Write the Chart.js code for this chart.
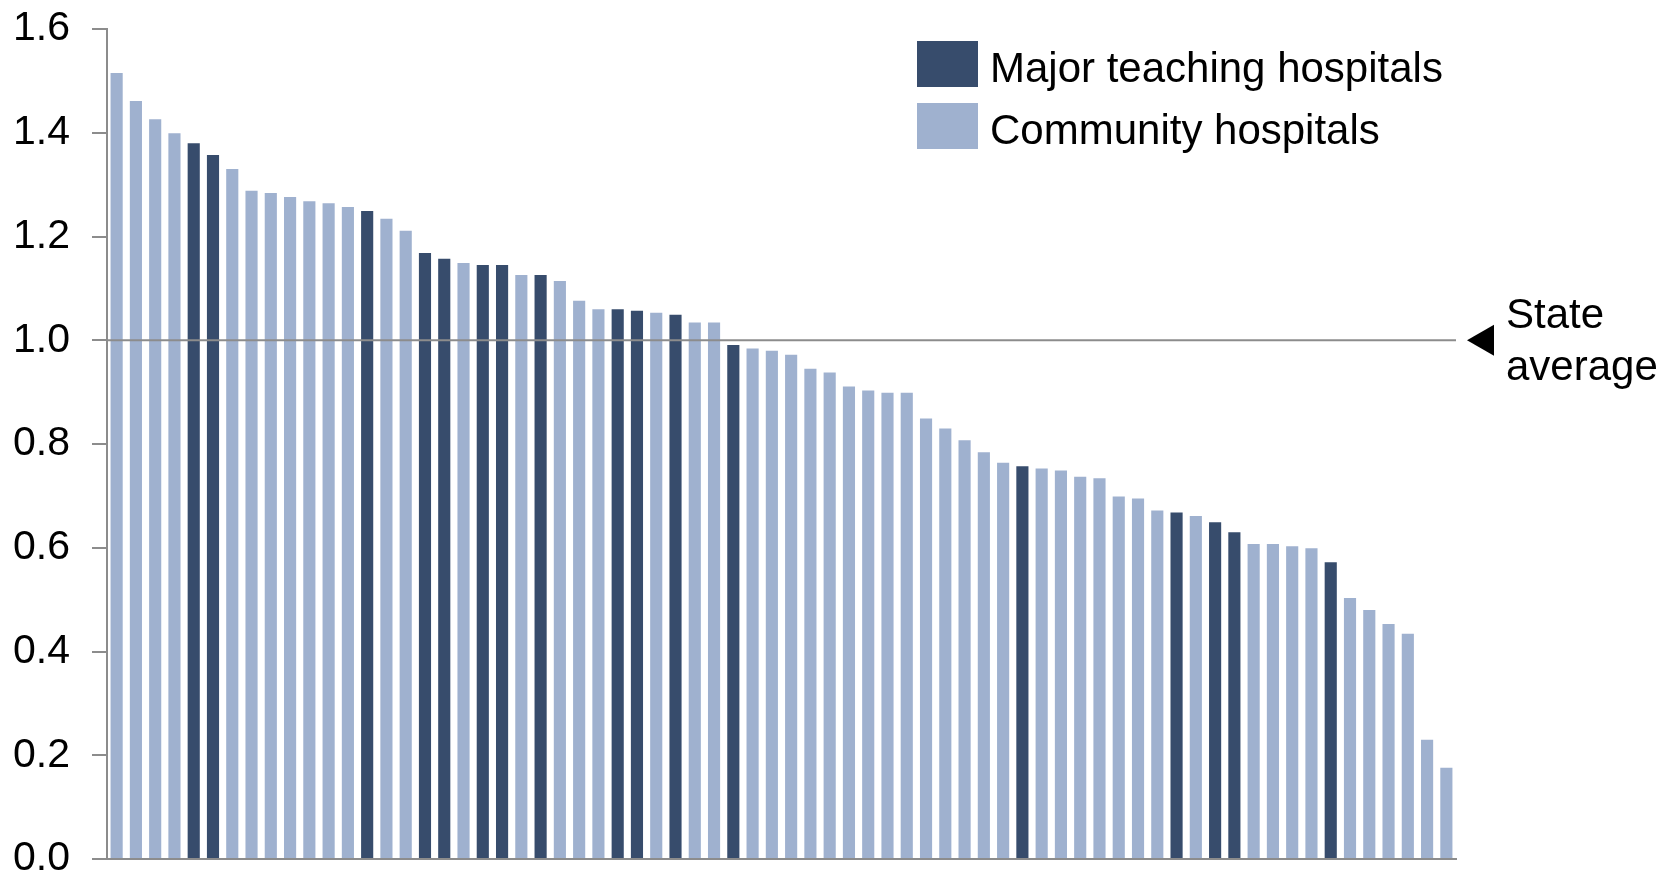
<!DOCTYPE html>
<html>
<head>
<meta charset="utf-8">
<title>Hospital ratios vs state average</title>
<script src="https://cdn.jsdelivr.net/npm/chart.js@4.4.1/dist/chart.umd.min.js"></script>
<style>
  html, body { margin: 0; padding: 0; background: #fff; }
  canvas { display: block; }
</style>
</head>
<body>
<canvas id="chart" width="1662" height="877"></canvas>
<script>
// hospitals ranked from highest to lowest ratio
const ratios = [
  1.515, 1.461, 1.426, 1.399, 1.380, 1.357, 1.330, 1.288, 1.284, 1.276,
  1.268, 1.264, 1.257, 1.249, 1.234, 1.211, 1.168, 1.157, 1.149, 1.145,
  1.145, 1.126, 1.126, 1.114, 1.076, 1.060, 1.060, 1.057, 1.053, 1.049,
  1.034, 1.034, 0.991, 0.984, 0.980, 0.972, 0.945, 0.938, 0.911, 0.903,
  0.899, 0.899, 0.849, 0.830, 0.807, 0.784, 0.764, 0.757, 0.753, 0.749,
  0.737, 0.734, 0.699, 0.695, 0.672, 0.668, 0.661, 0.649, 0.630, 0.607,
  0.607, 0.603, 0.599, 0.572, 0.503, 0.480, 0.453, 0.434, 0.230, 0.176,
];
// ranks (1-based) that are major teaching hospitals
const teachingRanks = [5, 6, 14, 17, 18, 20, 21, 23, 27, 28, 30, 33, 48, 56, 58, 59, 64];
const hospitals = ratios.map((_, i) => "Hospital " + (i + 1));
const seriesNames = ["Major teaching hospitals", "Community hospitals"];
const yTicks = [0, 0.2, 0.4, 0.6, 0.8, 1.0, 1.2, 1.4, 1.6];
const stateAverage = 1.0;

const FONT = "'Liberation Sans', Arial, sans-serif";
const DARK = "#374c6c";
const LIGHT = "#9fb1cf";
const AXIS = "#8c8c8c";

const teaching = ratios.map((v, i) => (teachingRanks.includes(i + 1) ? v : null));
const community = ratios.map((v, i) => (teachingRanks.includes(i + 1) ? null : v));

// state-average rule across the bars, with the pointer and label on the right
const averageLine = {
  id: "averageLine",
  afterDatasetsDraw(chart) {
    const { ctx, chartArea, scales } = chart;
    const y = scales.y.getPixelForValue(stateAverage);
    ctx.save();
    ctx.strokeStyle = AXIS;
    ctx.lineWidth = 2;
    ctx.beginPath();
    ctx.moveTo(chartArea.left, y);
    ctx.lineTo(chartArea.right, y);
    ctx.stroke();

    const tip = chartArea.right + 11;
    ctx.fillStyle = "#000";
    ctx.beginPath();
    ctx.moveTo(tip, y);
    ctx.lineTo(tip + 27, y - 15.5);
    ctx.lineTo(tip + 27, y + 15.5);
    ctx.closePath();
    ctx.fill();

    ctx.font = "42px " + FONT;
    ctx.textAlign = "left";
    ctx.textBaseline = "alphabetic";
    ctx.fillText("State", tip + 39, y - 12);
    ctx.fillText("average", tip + 39, y + 40);
    ctx.restore();
  },
};

// stacked legend in the upper right of the plot
const boxLegend = {
  id: "boxLegend",
  afterDraw(chart) {
    const { ctx } = chart;
    ctx.save();
    ctx.font = "42px " + FONT;
    ctx.textBaseline = "alphabetic";
    ctx.textAlign = "left";
    chart.data.datasets.forEach((ds, i) => {
      const top = 41 + i * 62;
      ctx.fillStyle = ds.backgroundColor;
      ctx.fillRect(917, top, 61, 46);
      ctx.fillStyle = "#000";
      ctx.fillText(ds.label, 990, top + 41);
    });
    ctx.restore();
  },
};

new Chart(document.getElementById("chart"), {
  type: "bar",
  data: {
    labels: hospitals,
    datasets: [
      { label: seriesNames[0], data: teaching, backgroundColor: DARK },
      { label: seriesNames[1], data: community, backgroundColor: LIGHT },
    ],
  },
  options: {
    responsive: false,
    animation: false,
    barPercentage: 0.63,
    categoryPercentage: 1,
    layout: { padding: { left: 14, right: 206, top: 0, bottom: 0 } },
    scales: {
      x: {
        stacked: true,
        grid: { display: false },
        ticks: { display: false },
        border: { color: AXIS, width: 2 },
        afterFit: (scale) => { scale.height = 0; },
      },
      y: {
        min: 0, max: 1.6,
        afterBuildTicks: (scale) => { scale.ticks = yTicks.map((v) => ({ value: v })); },
        afterFit: (scale) => {
          scale.width = 93;
          scale.paddingTop = 29;
          scale.paddingBottom = 18;
        },
        ticks: {
          callback: (v) => Number(v).toFixed(1),
          color: "#000",
          font: { family: FONT, size: 41 },
          padding: 22,
        },
        grid: { drawOnChartArea: false, drawTicks: true, tickLength: 15, color: AXIS, lineWidth: 2 },
        border: { color: AXIS, width: 2 },
      },
    },
    plugins: {
      legend: { display: false },
      tooltip: { enabled: false },
    },
  },
  plugins: [averageLine, boxLegend],
});
</script>
</body>
</html>
